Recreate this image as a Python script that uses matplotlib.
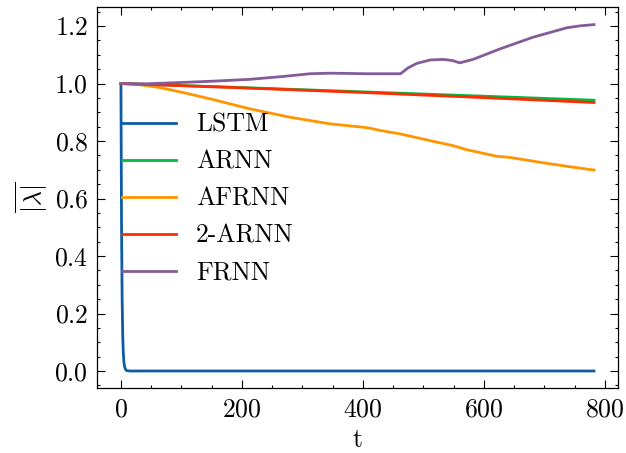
import matplotlib
matplotlib.use("Agg")
import matplotlib.pyplot as plt
from matplotlib.ticker import AutoMinorLocator, MultipleLocator

# ---- data ----
t_lstm = [0, 1, 2, 3, 4, 5, 6, 8, 10, 15, 782]
lstm = [1.0, 0.5, 0.25, 0.12, 0.06, 0.03, 0.015, 0.004, 0.001, 0.0, 0.0]

t_arnn = [0, 200, 400, 600, 782]
arnn = [1.0, 0.986, 0.971, 0.956, 0.942]
arnn2 = [1.0, 0.985, 0.969, 0.951, 0.934]

t_afrnn = [0, 30, 64, 100, 147, 213, 279, 345, 400, 411, 428, 461, 516, 549,
           571, 621, 643, 693, 737, 782]
afrnn = [1.0, 0.996, 0.986, 0.970, 0.947, 0.912, 0.883, 0.860, 0.848, 0.845,
         0.837, 0.825, 0.799, 0.784, 0.770, 0.747, 0.743, 0.726, 0.712, 0.699]

t_frnn = [0, 40, 92, 150, 213, 270, 312, 345, 411, 462, 475, 489, 511, 533,
          548, 560, 582, 626, 681, 737, 760, 782]
frnn = [1.0, 0.999, 1.003, 1.008, 1.0146, 1.025, 1.034, 1.036, 1.034, 1.034,
        1.055, 1.070, 1.082, 1.084, 1.080, 1.072, 1.084, 1.120, 1.161, 1.194,
        1.201, 1.205]

labels = ["LSTM", "ARNN", "AFRNN", "2-ARNN", "FRNN"]
colors = ["#0C5DA5", "#00B945", "#FF9500", "#FF2C00", "#845B97"]

plt.rcParams["font.family"] = "cmr10"
plt.rcParams["mathtext.fontset"] = "cm"
plt.rcParams["axes.formatter.use_mathtext"] = True
plt.rcParams["font.size"] = 18.5

fig = plt.figure(figsize=(6.26, 4.53), dpi=100)
ax = fig.add_axes([0.1554, 0.1428, 0.8313, 0.8411])

series = [(t_lstm, lstm), (t_arnn, arnn), (t_afrnn, afrnn),
          (t_arnn, arnn2), (t_frnn, frnn)]
for (tt, vv), lab, col in zip(series, labels, colors):
    ax.plot(tt, vv, color=col, lw=2.0, label=lab)

ax.xaxis.set_major_locator(MultipleLocator(200))
ax.yaxis.set_major_locator(MultipleLocator(0.2))
ax.xaxis.set_minor_locator(AutoMinorLocator(4))
ax.yaxis.set_minor_locator(AutoMinorLocator(4))
ax.tick_params(which="both", direction="in", top=True, right=True)
ax.tick_params(which="major", length=5.5, width=0.8, pad=6.5)
ax.tick_params(which="minor", length=2.5, width=0.8)
for s in ax.spines.values():
    s.set_linewidth(0.9)

ax.set_xlabel("t", labelpad=5)
ax.set_ylabel(r"$\overline{|\lambda|}$", labelpad=3)

ax.legend(frameon=False, loc="upper left", bbox_to_anchor=(0.027, 0.750),
          handlelength=2.1, handletextpad=0.8, labelspacing=0.52,
          borderaxespad=0.0)

fig.savefig("out.png", dpi=100)
